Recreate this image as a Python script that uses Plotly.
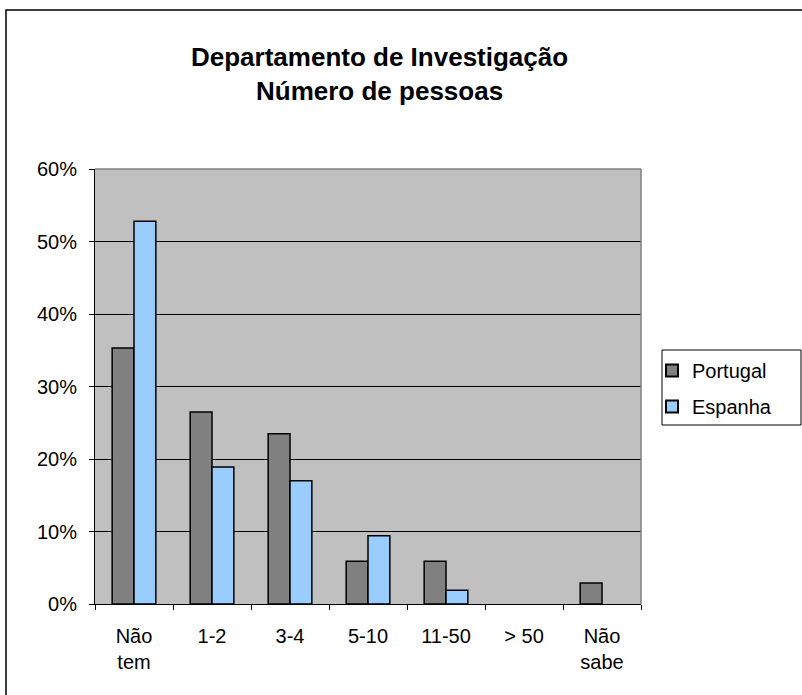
import plotly.graph_objects as go

categories = ["Não<br>tem", "1-2", "3-4", "5-10", "11-50", "> 50", "Não<br>sabe"]
portugal = [0.353, 0.265, 0.235, 0.059, 0.059, None, 0.029]
espanha = [0.528, 0.189, 0.170, 0.094, 0.019, None, None]
title_lines = ["Departamento de Investigação", "Número de pessoas"]

FONT = "Liberation Sans, Arial, sans-serif"
W, H = 802, 695
L, R, T, B = 95, 641, 169, 604

fig = go.Figure()
fig.add_trace(go.Bar(name="Portugal", x=categories, y=portugal, legendgroup="p",
                     marker=dict(color="#808080", line=dict(color="black", width=1.5))))
fig.add_trace(go.Bar(name="Espanha", x=categories, y=espanha, legendgroup="e",
                     marker=dict(color="#99CCFF", line=dict(color="black", width=1.5))))

pw, ph = R - L, B - T
def px(x):
    return (x - L) / pw
def py(y):
    return (B - y) / ph

fig.update_layout(
    width=W, height=H,
    margin=dict(l=L, r=W - R, t=T, b=H - B, pad=0),
    paper_bgcolor="white",
    plot_bgcolor="#C0C0C0",
    barmode="group",
    bargap=0.44,
    bargroupgap=0,
    font=dict(family=FONT, size=20, color="black"),
    showlegend=True,
    legend=dict(
        x=px(652), y=py(351), xanchor="left", yanchor="top",
        bgcolor="rgba(0,0,0,0)", borderwidth=0,
        font=dict(family=FONT, size=20, color="black"),
        itemsizing="constant", tracegroupgap=7,
    ),
    xaxis=dict(
        showline=True, linecolor="black", linewidth=1,
        ticks="outside", ticklen=5, tickcolor="black", tickson="boundaries",
        showgrid=False, tickfont=dict(family=FONT, size=20),
        ticklabelstandoff=14,
    ),
    yaxis=dict(
        range=[0, 0.6], dtick=0.1, tickformat=".0%",
        showline=True, linecolor="black", linewidth=1,
        ticks="outside", ticklen=5, tickcolor="black",
        showgrid=True, gridcolor="black", gridwidth=1,
        zeroline=False, tickfont=dict(family=FONT, size=20),
        ticklabelstandoff=8,
    ),
    annotations=[
        dict(text="<b>" + title_lines[0] + "<br>" + title_lines[1] + "</b>",
             x=px(379), y=py(74), xref="paper", yref="paper",
             xanchor="center", yanchor="middle", showarrow=False,
             font=dict(family=FONT, size=26, color="black"), align="center"),
    ],
    shapes=[
        dict(type="line", xref="paper", yref="paper",
             x0=0, x1=1, y0=1, y1=1, line=dict(color="#808080", width=1.5), layer="above"),
        dict(type="line", xref="paper", yref="paper",
             x0=1, x1=1, y0=0, y1=1, line=dict(color="#808080", width=1.5), layer="above"),
        dict(type="rect", xref="paper", yref="paper",
             x0=px(662), x1=px(801), y0=py(425), y1=py(350),
             line=dict(color="black", width=1), fillcolor="white", layer="below"),
        dict(type="rect", xref="paper", yref="paper",
             x0=px(6), x1=px(810), y0=py(700), y1=py(10),
             line=dict(color="black", width=1.5)),
    ],
)

fig.write_html("out.html", config={"displayModeBar": False},
               post_script="document.body.style.margin='0';")
